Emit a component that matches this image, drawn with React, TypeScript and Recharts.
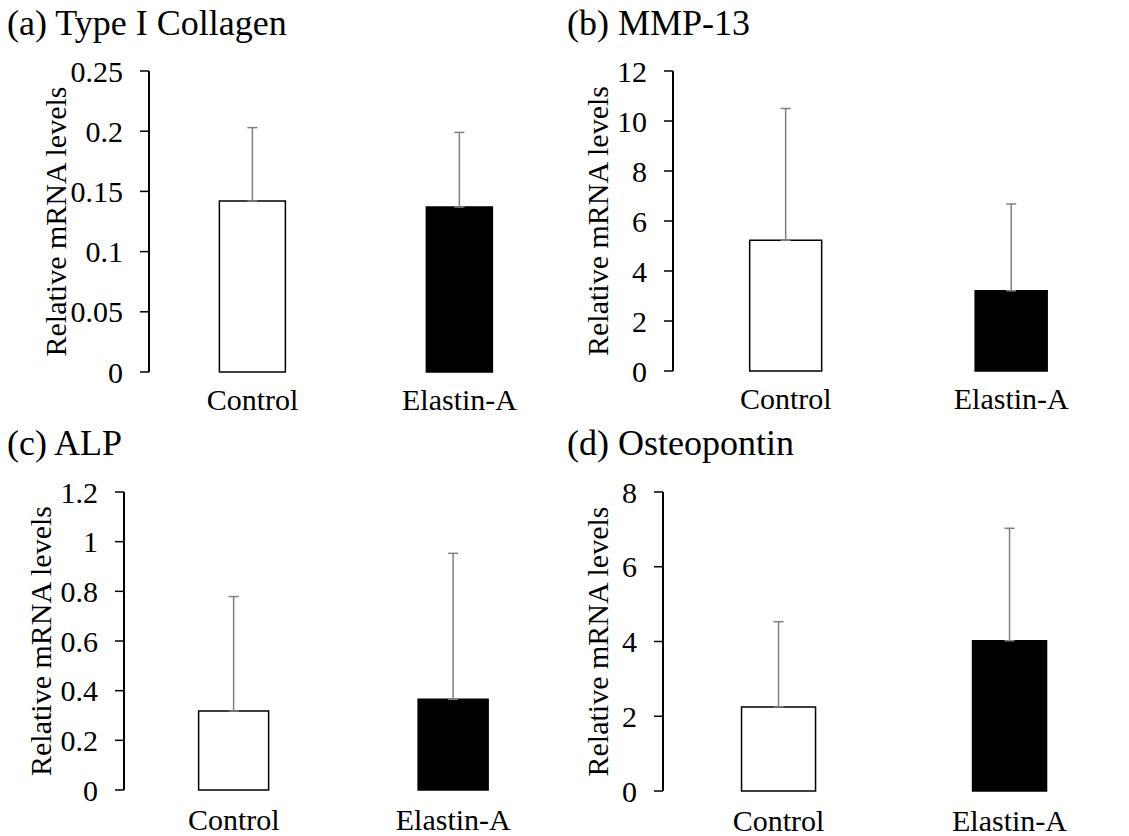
import React from 'react';
import { BarChart, Bar, Cell, XAxis, YAxis, ErrorBar } from 'recharts';

const FONT = "'Liberation Serif', 'DejaVu Serif', serif";

const categories = ['Control', 'Elastin-A'];
const barFills = ['#ffffff', '#000000'];

// (a) Type I Collagen
const collagenMean = [0.142, 0.137];
const collagenUpper = [0.203, 0.199];
const collagenTicks = [0, 0.05, 0.1, 0.15, 0.2, 0.25];

// (b) MMP-13
const mmpMean = [5.23, 3.21];
const mmpUpper = [10.5, 6.68];
const mmpTicks = [0, 2, 4, 6, 8, 10, 12];

// (c) ALP
const alpMean = [0.318, 0.365];
const alpUpper = [0.779, 0.953];
const alpTicks = [0, 0.2, 0.4, 0.6, 0.8, 1, 1.2];

// (d) Osteopontin
const opnMean = [2.25, 4.02];
const opnUpper = [4.53, 7.03];
const opnTicks = [0, 2, 4, 6, 8];

const edgeTicks = [0, 1, 2];

const buildRows = (mean: number[], upper: number[]) =>
  categories.map((name, i) => ({
    name,
    mean: mean[i],
    err: [0, upper[i] - mean[i]],
  }));

interface PanelProps {
  title: string;
  mean: number[];
  upper: number[];
  ticks: number[];
  left: number;
  top: number;
  width: number;
  height: number;
  marginTop: number;
  marginRight: number;
  yAxisWidth: number;
  xAxisHeight: number;
  labelDx: number;
  labelGap: number;
}

const Panel: React.FC<PanelProps> = (p) => {
  const rows = buildRows(p.mean, p.upper);
  return (
    <div style={{ position: 'absolute', left: p.left, top: p.top, width: p.width, height: p.height }}>
      <div
        style={{
          position: 'absolute',
          left: 7,
          top: 5,
          fontFamily: FONT,
          fontSize: 36,
          lineHeight: 1,
          color: '#000',
          whiteSpace: 'nowrap',
        }}
      >
        {p.title}
      </div>
      <BarChart
        width={p.width}
        height={p.height}
        data={rows}
        margin={{ top: p.marginTop, right: p.marginRight, left: 0, bottom: 0 }}
        barCategoryGap="34%"
        style={{ fontFamily: FONT }}
      >
        <XAxis
          xAxisId="edge"
          type="number"
          domain={[0, 2]}
          ticks={edgeTicks}
          allowDataOverflow
          tick={false}
          tickSize={8}
          height={0}
          axisLine={{ stroke: '#000', strokeWidth: 2 }}
          tickLine={{ stroke: '#000', strokeWidth: 1.5 }}
        />
        <XAxis
          dataKey="name"
          height={p.xAxisHeight}
          axisLine={false}
          tickLine={false}
          tickSize={0}
          tickMargin={p.labelGap}
          tick={{ fill: '#000', fontSize: 30, fontFamily: FONT }}
        />
        <YAxis
          width={p.yAxisWidth}
          domain={[0, p.ticks[p.ticks.length - 1]]}
          ticks={p.ticks}
          interval={0}
          tickSize={9}
          tickMargin={17}
          axisLine={{ stroke: '#000', strokeWidth: 2 }}
          tickLine={{ stroke: '#000', strokeWidth: 1.5 }}
          tick={{ fill: '#000', fontSize: 30, fontFamily: FONT }}
          label={{
            value: 'Relative mRNA levels',
            angle: -90,
            position: 'center',
            dx: p.labelDx,
            fill: '#000',
            fontSize: 30,
            fontFamily: FONT,
          }}
        />
        <Bar dataKey="mean" stroke="#000" strokeWidth={1.5} isAnimationActive={false}>
          {rows.map((r, i) => (
            <Cell key={r.name} fill={barFills[i]} />
          ))}
          <ErrorBar
            dataKey="err"
            direction="y"
            width={5}
            stroke="#808080"
            strokeWidth={1.5}
            isAnimationActive={false}
          />
        </Bar>
      </BarChart>
    </div>
  );
};

export default function App() {
  return (
    <div
      style={{
        position: 'absolute',
        left: 0,
        top: 0,
        width: 1129,
        height: 836,
        background: '#fff',
        fontFamily: FONT,
        overflow: 'hidden',
      }}
    >
      <Panel
        title="(a) Type I Collagen"
        mean={collagenMean}
        upper={collagenUpper}
        ticks={collagenTicks}
        left={0}
        top={0}
        width={565}
        height={420}
        marginTop={71}
        marginRight={2}
        yAxisWidth={149}
        xAxisHeight={48}
        labelDx={-19}
        labelGap={17}
      />
      <Panel
        title="(b) MMP-13"
        mean={mmpMean}
        upper={mmpUpper}
        ticks={mmpTicks}
        left={560}
        top={0}
        width={569}
        height={420}
        marginTop={71}
        marginRight={5}
        yAxisWidth={113}
        xAxisHeight={49}
        labelDx={-19}
        labelGap={17}
      />
      <Panel
        title="(c) ALP"
        mean={alpMean}
        upper={alpUpper}
        ticks={alpTicks}
        left={0}
        top={420}
        width={565}
        height={416}
        marginTop={72}
        marginRight={2}
        yAxisWidth={124}
        xAxisHeight={46}
        labelDx={-22}
        labelGap={19}
      />
      <Panel
        title="(d) Osteopontin"
        mean={opnMean}
        upper={opnUpper}
        ticks={opnTicks}
        left={560}
        top={420}
        width={569}
        height={416}
        marginTop={72}
        marginRight={4}
        yAxisWidth={103}
        xAxisHeight={45}
        labelDx={-14}
        labelGap={19}
      />
    </div>
  );
}
